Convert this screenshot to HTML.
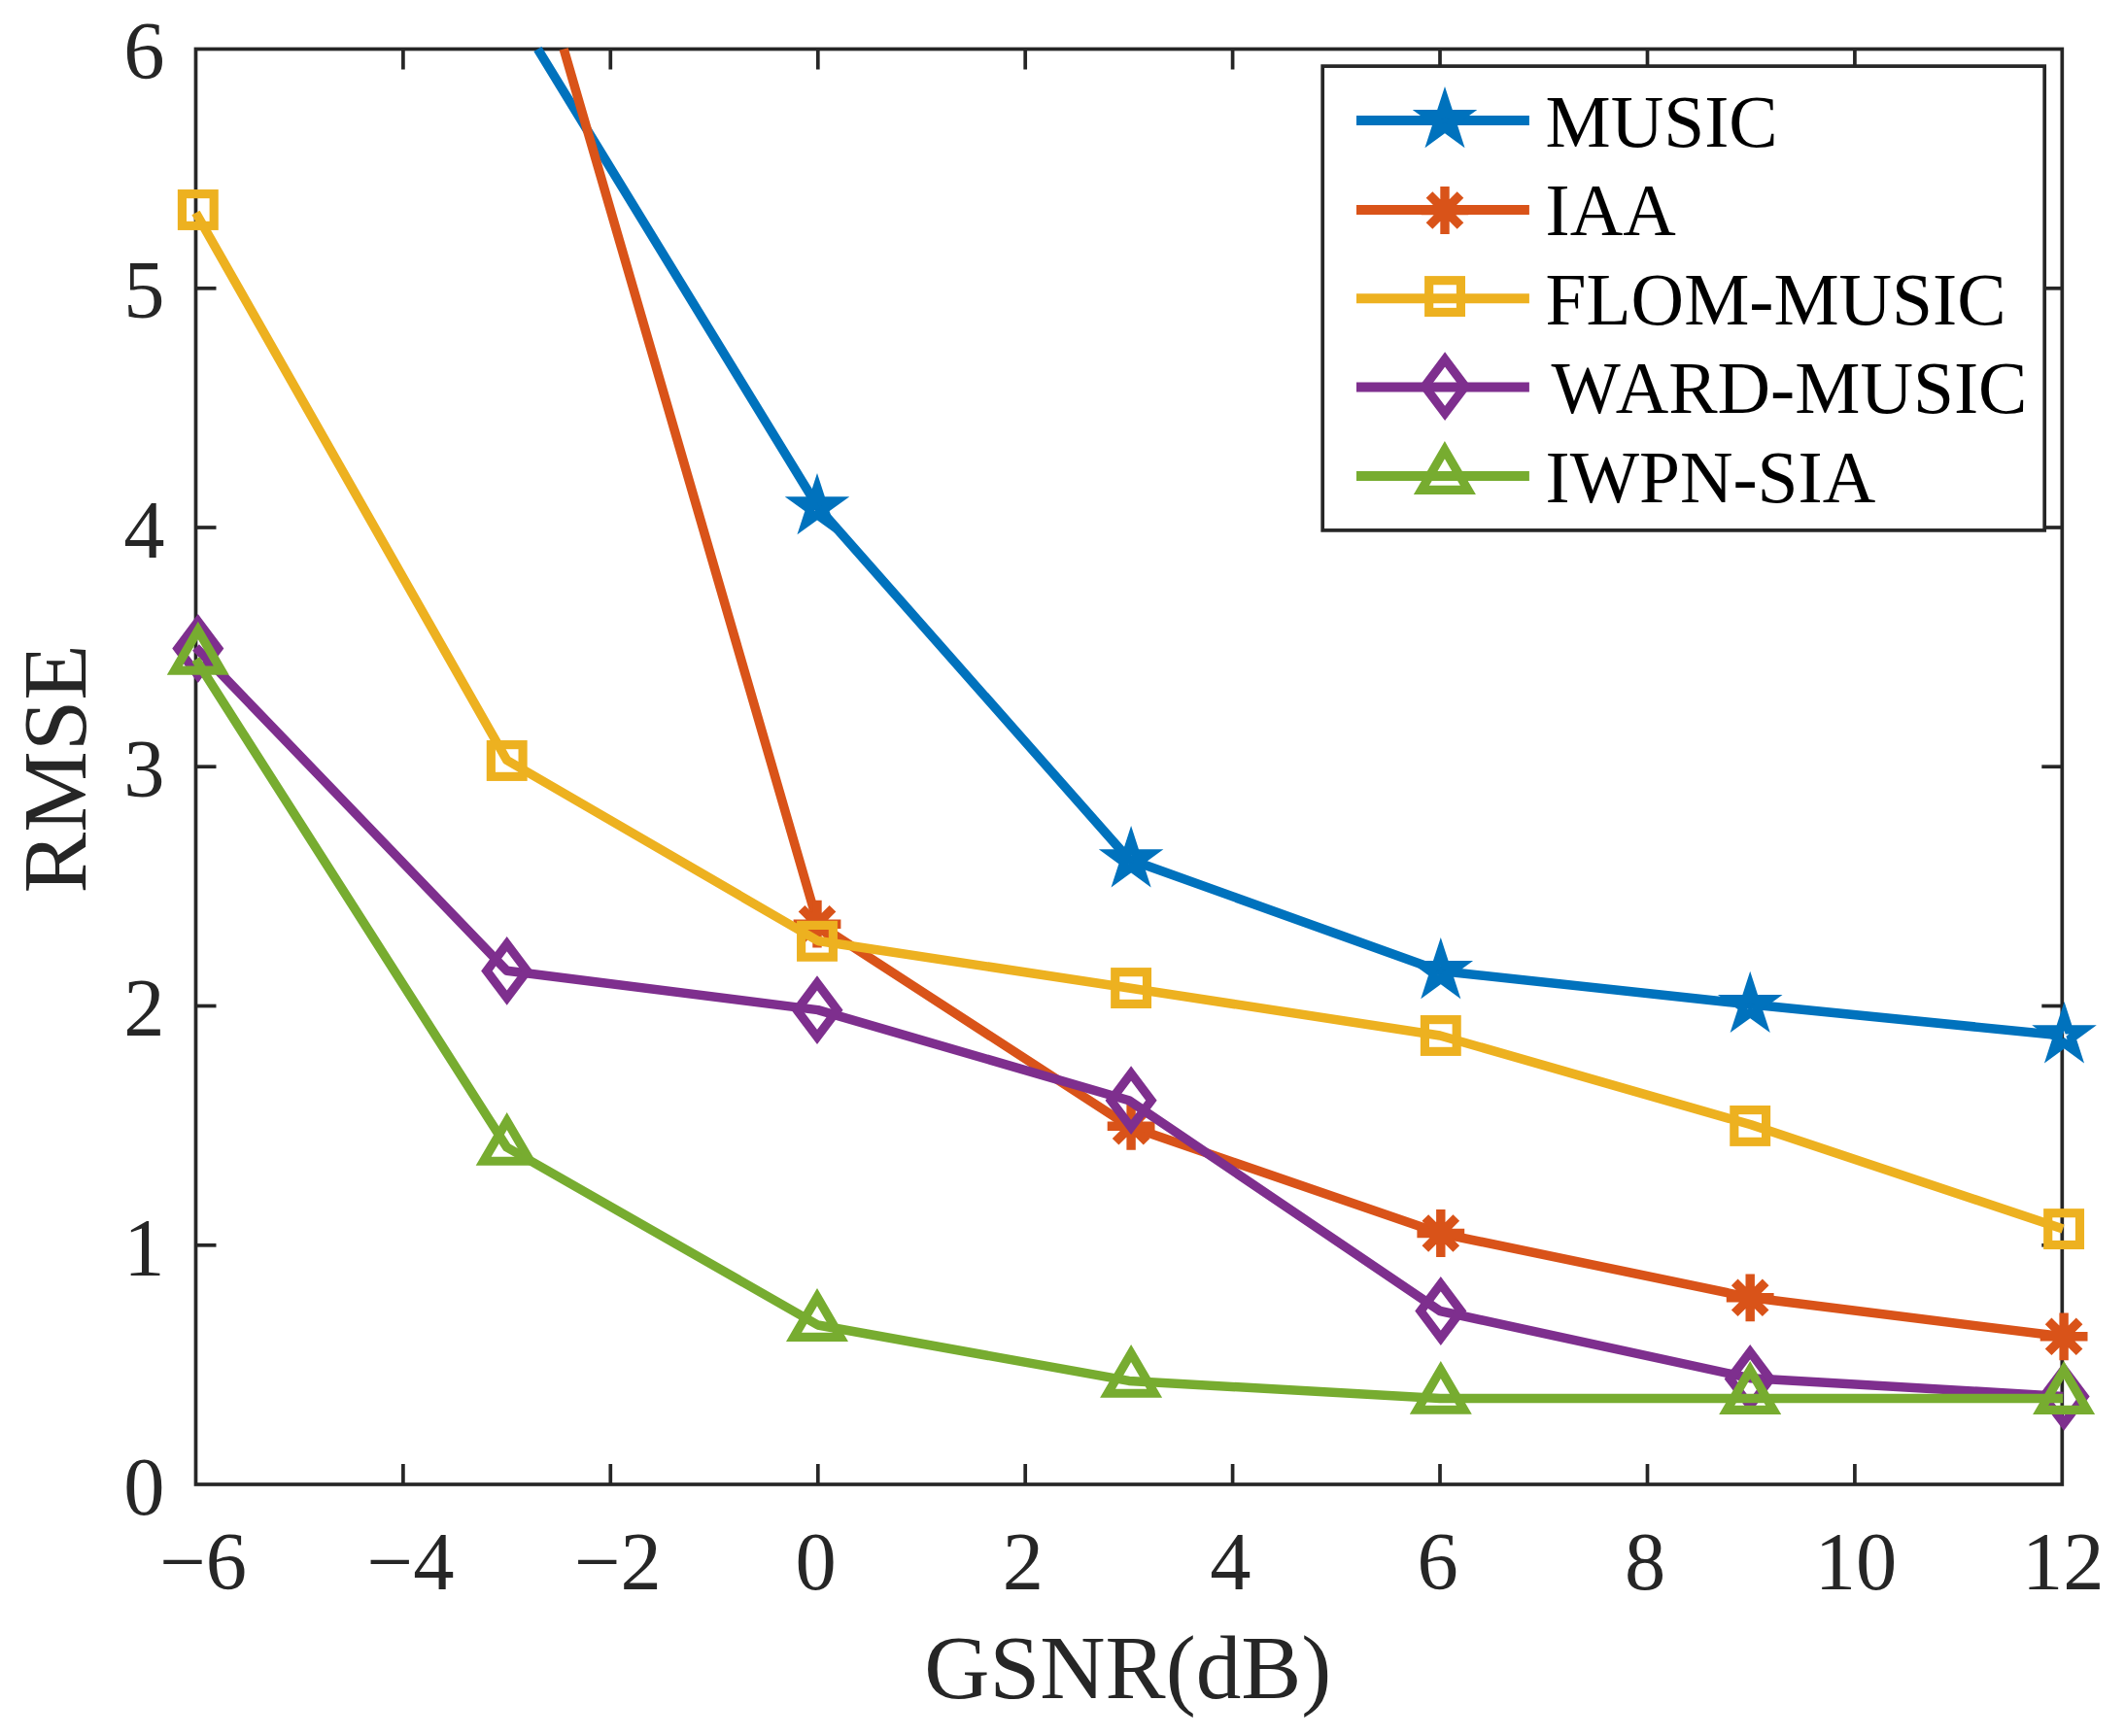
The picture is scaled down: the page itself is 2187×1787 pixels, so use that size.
<!DOCTYPE html>
<html lang="en"><head><meta charset="utf-8"><title>RMSE versus GSNR</title>
<style>
html,body{margin:0;padding:0;background:#fff;}
body{width:2187px;height:1787px;overflow:hidden;font-family:"Liberation Serif",serif;}
svg{display:block;}
</style></head><body>
<svg width="2187" height="1787" viewBox="0 0 2187 1787">
<rect x="0" y="0" width="2187" height="1787" fill="#fff"/>
<g stroke="#262626" stroke-width="3.7" fill="none" stroke-linecap="butt">
<rect x="201.5" y="50.5" width="1920.8000000000002" height="1477.5"/>
<line x1="414.9" y1="1528.0" x2="414.9" y2="1507.0"/>
<line x1="414.9" y1="50.5" x2="414.9" y2="71.5"/>
<line x1="628.3" y1="1528.0" x2="628.3" y2="1507.0"/>
<line x1="628.3" y1="50.5" x2="628.3" y2="71.5"/>
<line x1="841.8" y1="1528.0" x2="841.8" y2="1507.0"/>
<line x1="841.8" y1="50.5" x2="841.8" y2="71.5"/>
<line x1="1055.2" y1="1528.0" x2="1055.2" y2="1507.0"/>
<line x1="1055.2" y1="50.5" x2="1055.2" y2="71.5"/>
<line x1="1268.6" y1="1528.0" x2="1268.6" y2="1507.0"/>
<line x1="1268.6" y1="50.5" x2="1268.6" y2="71.5"/>
<line x1="1482.0" y1="1528.0" x2="1482.0" y2="1507.0"/>
<line x1="1482.0" y1="50.5" x2="1482.0" y2="71.5"/>
<line x1="1695.5" y1="1528.0" x2="1695.5" y2="1507.0"/>
<line x1="1695.5" y1="50.5" x2="1695.5" y2="71.5"/>
<line x1="1908.9" y1="1528.0" x2="1908.9" y2="1507.0"/>
<line x1="1908.9" y1="50.5" x2="1908.9" y2="71.5"/>
<line x1="201.5" y1="1281.8" x2="222.5" y2="1281.8"/>
<line x1="2122.3" y1="1281.8" x2="2101.3" y2="1281.8"/>
<line x1="201.5" y1="1035.5" x2="222.5" y2="1035.5"/>
<line x1="2122.3" y1="1035.5" x2="2101.3" y2="1035.5"/>
<line x1="201.5" y1="789.2" x2="222.5" y2="789.2"/>
<line x1="2122.3" y1="789.2" x2="2101.3" y2="789.2"/>
<line x1="201.5" y1="543.0" x2="222.5" y2="543.0"/>
<line x1="2122.3" y1="543.0" x2="2101.3" y2="543.0"/>
<line x1="201.5" y1="296.8" x2="222.5" y2="296.8"/>
<line x1="2122.3" y1="296.8" x2="2101.3" y2="296.8"/>
</g>
<g font-family="'Liberation Serif', 'Times New Roman', serif" font-size="84.5" fill="#262626">
<text x="209.1" y="1636" text-anchor="middle">−6</text>
<text x="422.5" y="1636" text-anchor="middle">−4</text>
<text x="635.9" y="1636" text-anchor="middle">−2</text>
<text x="839.5" y="1636" text-anchor="middle">0</text>
<text x="1052.9" y="1636" text-anchor="middle">2</text>
<text x="1266.3" y="1636" text-anchor="middle">4</text>
<text x="1479.7" y="1636" text-anchor="middle">6</text>
<text x="1693.2" y="1636" text-anchor="middle">8</text>
<text x="1909.9" y="1636" text-anchor="middle">10</text>
<text x="2123.3" y="1636" text-anchor="middle">12</text>
<text x="169.5" y="1558.7" text-anchor="end">0</text>
<text x="169.5" y="1312.5" text-anchor="end">1</text>
<text x="169.5" y="1066.2" text-anchor="end">2</text>
<text x="169.5" y="820.0" text-anchor="end">3</text>
<text x="169.5" y="573.7" text-anchor="end">4</text>
<text x="169.5" y="327.4" text-anchor="end">5</text>
<text x="169.5" y="81.2" text-anchor="end">6</text>
</g>
<g font-family="'Liberation Serif', 'Times New Roman', serif" font-size="93.6" fill="#262626">
<text x="1160.8" y="1748" text-anchor="middle" font-size="93.1">GSNR(dB)</text>
<text transform="translate(88.4,791.4) rotate(-90)" text-anchor="middle" font-size="94">RMSE</text>
</g>
<polyline points="553.40,50.50 841.77,522.00 1161.90,884.50 1482.03,999.50 1802.17,1034.00 2123.10,1066.00" fill="none" stroke="#0072BD" stroke-width="9.5" stroke-linejoin="round" stroke-linecap="butt"/>
<polygon points="841.00,501.90 845.51,515.79 860.12,515.79 848.30,524.37 852.81,538.26 841.00,529.68 829.19,538.26 833.70,524.37 821.88,515.79 836.49,515.79" fill="none" stroke="#0072BD" stroke-width="9.2" stroke-linejoin="miter" stroke-miterlimit="10"/>
<polygon points="1164.10,865.00 1168.61,878.89 1183.22,878.89 1171.40,887.47 1175.91,901.36 1164.10,892.78 1152.29,901.36 1156.80,887.47 1144.98,878.89 1159.59,878.89" fill="none" stroke="#0072BD" stroke-width="9.2" stroke-linejoin="miter" stroke-miterlimit="10"/>
<polygon points="1482.80,979.80 1487.31,993.69 1501.92,993.69 1490.10,1002.27 1494.61,1016.16 1482.80,1007.58 1470.99,1016.16 1475.50,1002.27 1463.68,993.69 1478.29,993.69" fill="none" stroke="#0072BD" stroke-width="9.2" stroke-linejoin="miter" stroke-miterlimit="10"/>
<polygon points="1801.20,1014.70 1805.71,1028.59 1820.32,1028.59 1808.50,1037.17 1813.01,1051.06 1801.20,1042.48 1789.39,1051.06 1793.90,1037.17 1782.08,1028.59 1796.69,1028.59" fill="none" stroke="#0072BD" stroke-width="9.2" stroke-linejoin="miter" stroke-miterlimit="10"/>
<polygon points="2124.50,1046.00 2129.01,1059.89 2143.62,1059.89 2131.80,1068.47 2136.31,1082.36 2124.50,1073.78 2112.69,1082.36 2117.20,1068.47 2105.38,1059.89 2119.99,1059.89" fill="none" stroke="#0072BD" stroke-width="9.2" stroke-linejoin="miter" stroke-miterlimit="10"/>
<polyline points="580.20,50.50 841.77,951.20 1161.90,1159.30 1482.03,1269.50 1802.17,1335.80 2123.10,1375.80" fill="none" stroke="#D95319" stroke-width="9.5" stroke-linejoin="round" stroke-linecap="butt"/>
<path d="M816.60,951.20H865.40M841.00,926.80V975.60M825.02,935.22L856.98,967.18M825.02,967.18L856.98,935.22" fill="none" stroke="#D95319" stroke-width="9.4" stroke-linecap="butt"/>
<path d="M1139.70,1159.30H1188.50M1164.10,1134.90V1183.70M1148.12,1143.32L1180.08,1175.28M1148.12,1175.28L1180.08,1143.32" fill="none" stroke="#D95319" stroke-width="9.4" stroke-linecap="butt"/>
<path d="M1458.40,1269.50H1507.20M1482.80,1245.10V1293.90M1466.82,1253.52L1498.78,1285.48M1466.82,1285.48L1498.78,1253.52" fill="none" stroke="#D95319" stroke-width="9.4" stroke-linecap="butt"/>
<path d="M1776.80,1335.80H1825.60M1801.20,1311.40V1360.20M1785.22,1319.82L1817.18,1351.78M1785.22,1351.78L1817.18,1319.82" fill="none" stroke="#D95319" stroke-width="9.4" stroke-linecap="butt"/>
<path d="M2099.70,1375.80H2148.50M2124.10,1351.40V1400.20M2108.12,1359.82L2140.08,1391.78M2108.12,1391.78L2140.08,1359.82" fill="none" stroke="#D95319" stroke-width="9.4" stroke-linecap="butt"/>
<polyline points="201.50,219.00 521.63,782.50 841.77,968.50 1161.90,1017.00 1482.03,1066.00 1802.17,1157.80 2123.10,1265.00" fill="none" stroke="#EDB120" stroke-width="9.5" stroke-linejoin="round" stroke-linecap="butt"/>
<rect x="187.43" y="199.62" width="32.75" height="32.75" fill="none" stroke="#EDB120" stroke-width="9.15" stroke-linejoin="miter"/>
<rect x="505.33" y="766.62" width="32.75" height="32.75" fill="none" stroke="#EDB120" stroke-width="9.15" stroke-linejoin="miter"/>
<rect x="824.62" y="952.42" width="32.75" height="32.75" fill="none" stroke="#EDB120" stroke-width="9.15" stroke-linejoin="miter"/>
<rect x="1147.72" y="1000.67" width="32.75" height="32.75" fill="none" stroke="#EDB120" stroke-width="9.15" stroke-linejoin="miter"/>
<rect x="1466.42" y="1049.62" width="32.75" height="32.75" fill="none" stroke="#EDB120" stroke-width="9.15" stroke-linejoin="miter"/>
<rect x="1784.83" y="1142.58" width="32.75" height="32.75" fill="none" stroke="#EDB120" stroke-width="9.15" stroke-linejoin="miter"/>
<rect x="2107.72" y="1248.72" width="32.75" height="32.75" fill="none" stroke="#EDB120" stroke-width="9.15" stroke-linejoin="miter"/>
<polyline points="201.50,666.50 521.63,999.20 841.77,1039.60 1161.90,1132.70 1482.03,1349.50 1802.17,1418.80 2123.10,1437.40" fill="none" stroke="#7E2F8E" stroke-width="9.5" stroke-linejoin="round" stroke-linecap="butt"/>
<polygon points="203.80,639.75 224.60,667.50 203.80,695.25 183.00,667.50" fill="none" stroke="#7E2F8E" stroke-width="9.2" stroke-linejoin="miter" stroke-miterlimit="10"/>
<polygon points="521.70,971.65 542.50,999.40 521.70,1027.15 500.90,999.40" fill="none" stroke="#7E2F8E" stroke-width="9.2" stroke-linejoin="miter" stroke-miterlimit="10"/>
<polygon points="841.00,1011.95 861.80,1039.70 841.00,1067.45 820.20,1039.70" fill="none" stroke="#7E2F8E" stroke-width="9.2" stroke-linejoin="miter" stroke-miterlimit="10"/>
<polygon points="1164.10,1104.95 1184.90,1132.70 1164.10,1160.45 1143.30,1132.70" fill="none" stroke="#7E2F8E" stroke-width="9.2" stroke-linejoin="miter" stroke-miterlimit="10"/>
<polygon points="1482.80,1321.75 1503.60,1349.50 1482.80,1377.25 1462.00,1349.50" fill="none" stroke="#7E2F8E" stroke-width="9.2" stroke-linejoin="miter" stroke-miterlimit="10"/>
<polygon points="1801.20,1391.65 1822.00,1419.40 1801.20,1447.15 1780.40,1419.40" fill="none" stroke="#7E2F8E" stroke-width="9.2" stroke-linejoin="miter" stroke-miterlimit="10"/>
<polygon points="2124.10,1409.65 2144.90,1437.40 2124.10,1465.15 2103.30,1437.40" fill="none" stroke="#7E2F8E" stroke-width="9.2" stroke-linejoin="miter" stroke-miterlimit="10"/>
<polyline points="201.50,678.80 521.63,1181.00 841.77,1364.00 1161.90,1421.40 1482.03,1439.60 1802.17,1439.60 2123.10,1439.60" fill="none" stroke="#77AC30" stroke-width="9.5" stroke-linejoin="round" stroke-linecap="butt"/>
<polygon points="203.80,648.93 227.80,690.13 179.80,690.13" fill="none" stroke="#77AC30" stroke-width="9.2" stroke-linejoin="miter" stroke-miterlimit="10"/>
<polygon points="521.70,1154.03 545.70,1195.23 497.70,1195.23" fill="none" stroke="#77AC30" stroke-width="9.2" stroke-linejoin="miter" stroke-miterlimit="10"/>
<polygon points="841.00,1335.13 865.00,1376.33 817.00,1376.33" fill="none" stroke="#77AC30" stroke-width="9.2" stroke-linejoin="miter" stroke-miterlimit="10"/>
<polygon points="1164.10,1393.03 1188.10,1434.23 1140.10,1434.23" fill="none" stroke="#77AC30" stroke-width="9.2" stroke-linejoin="miter" stroke-miterlimit="10"/>
<polygon points="1482.80,1410.03 1506.80,1451.23 1458.80,1451.23" fill="none" stroke="#77AC30" stroke-width="9.2" stroke-linejoin="miter" stroke-miterlimit="10"/>
<polygon points="1801.20,1410.23 1825.20,1451.43 1777.20,1451.43" fill="none" stroke="#77AC30" stroke-width="9.2" stroke-linejoin="miter" stroke-miterlimit="10"/>
<polygon points="2124.10,1410.23 2148.10,1451.43 2100.10,1451.43" fill="none" stroke="#77AC30" stroke-width="9.2" stroke-linejoin="miter" stroke-miterlimit="10"/>
<rect x="1361.2" y="68.1" width="742.9999999999998" height="477.79999999999995" fill="#fff" stroke="#262626" stroke-width="3.7"/>
<line x1="1396" y1="123.9" x2="1573.9" y2="123.9" stroke="#0072BD" stroke-width="10"/>
<line x1="1396" y1="216.0" x2="1573.9" y2="216.0" stroke="#D95319" stroke-width="10"/>
<line x1="1396" y1="307.2" x2="1573.9" y2="307.2" stroke="#EDB120" stroke-width="10"/>
<line x1="1396" y1="398.6" x2="1573.9" y2="398.6" stroke="#7E2F8E" stroke-width="10"/>
<line x1="1396" y1="490.1" x2="1573.9" y2="490.1" stroke="#77AC30" stroke-width="10"/>
<polygon points="1487.00,103.80 1491.51,117.69 1506.12,117.69 1494.30,126.27 1498.81,140.16 1487.00,131.58 1475.19,140.16 1479.70,126.27 1467.88,117.69 1482.49,117.69" fill="none" stroke="#0072BD" stroke-width="9.2" stroke-linejoin="miter" stroke-miterlimit="10"/>
<path d="M1462.60,216.50H1511.40M1487.00,192.10V240.90M1471.02,200.52L1502.98,232.48M1471.02,232.48L1502.98,200.52" fill="none" stroke="#D95319" stroke-width="9.4" stroke-linecap="butt"/>
<rect x="1470.67" y="288.68" width="32.75" height="32.75" fill="none" stroke="#EDB120" stroke-width="9.15" stroke-linejoin="miter"/>
<polygon points="1487.10,369.90 1507.90,397.65 1487.10,425.40 1466.30,397.65" fill="none" stroke="#7E2F8E" stroke-width="9.2" stroke-linejoin="miter" stroke-miterlimit="10"/>
<polygon points="1486.90,463.23 1510.90,504.43 1462.90,504.43" fill="none" stroke="#77AC30" stroke-width="9.2" stroke-linejoin="miter" stroke-miterlimit="10"/>
<g font-family="'Liberation Serif', 'Times New Roman', serif" font-size="75.5" fill="#000">
<text x="1590.5" y="150.6">MUSIC</text>
<text x="1590.5" y="241.9">IAA</text>
<text x="1590.5" y="333.6">FLOM-MUSIC</text>
<text x="1596.4" y="424.7">W<tspan dx="3.4">ARD-MUSIC</tspan></text>
<text x="1590.5" y="516.5">IWPN-SIA</text>
</g>
</svg>
</body></html>
